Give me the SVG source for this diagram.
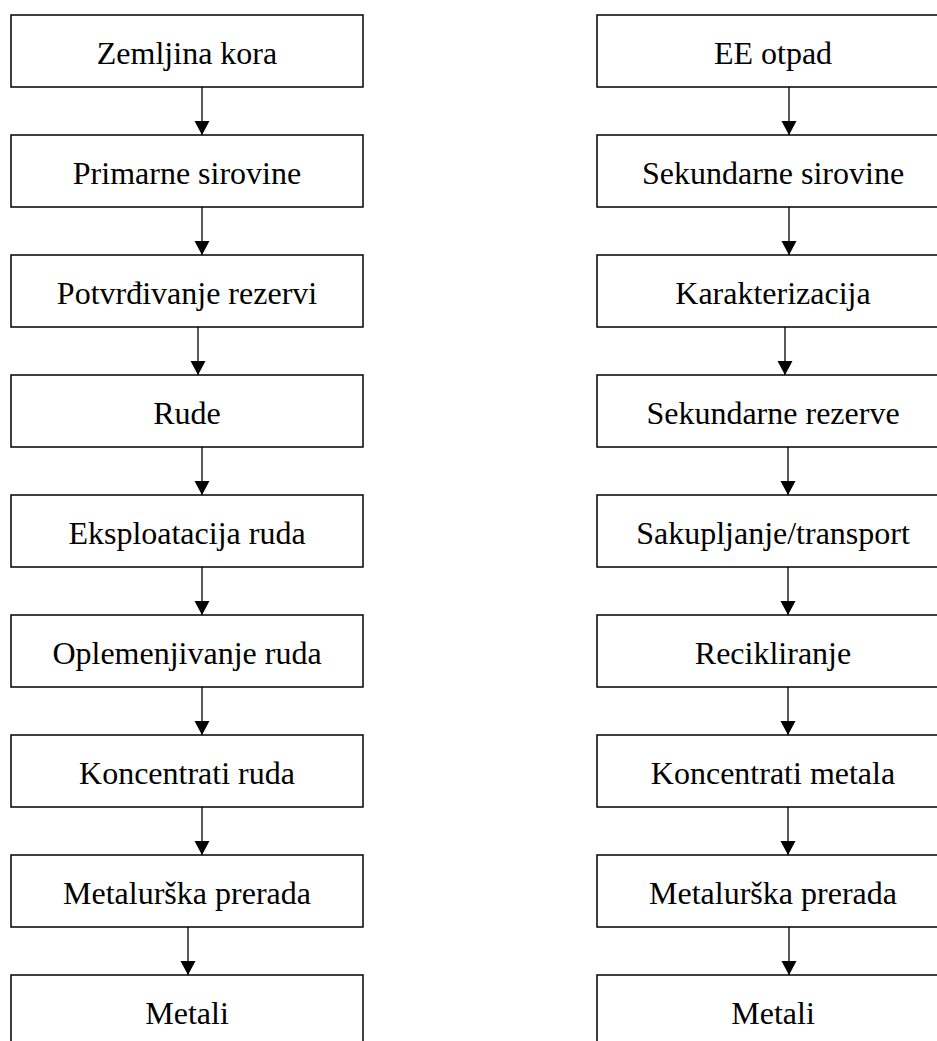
<svg xmlns="http://www.w3.org/2000/svg" width="937" height="1041" viewBox="0 0 937 1041">
<style>
.box{fill:#fff;stroke:#000;stroke-width:1.5}
.lbl{font-family:"Liberation Serif","Times New Roman",serif;font-size:32px;fill:#000;text-anchor:middle}
.con{stroke:#000;stroke-width:1.3;fill:none;marker-end:url(#ah)}
</style>
<defs>
<marker id="ah" markerUnits="userSpaceOnUse" markerWidth="16" markerHeight="16" refX="14" refY="7.5" orient="auto">
<path d="M0,0 L14,7.5 L0,15 Z" fill="#000"/>
</marker>
</defs>
<rect width="937" height="1041" fill="#fff"/>
<g id="connectors">
<line class="con" x1="202" y1="87" x2="202" y2="135"/>
<line class="con" x1="202" y1="207" x2="202" y2="255"/>
<line class="con" x1="198" y1="327" x2="198" y2="375"/>
<line class="con" x1="202" y1="447" x2="202" y2="495"/>
<line class="con" x1="202" y1="567" x2="202" y2="615"/>
<line class="con" x1="202" y1="687" x2="202" y2="735"/>
<line class="con" x1="202" y1="807" x2="202" y2="855"/>
<line class="con" x1="188" y1="927" x2="188" y2="975"/>
<line class="con" x1="789" y1="87" x2="789" y2="135"/>
<line class="con" x1="789" y1="207" x2="789" y2="255"/>
<line class="con" x1="785" y1="327" x2="785" y2="375"/>
<line class="con" x1="788" y1="447" x2="788" y2="495"/>
<line class="con" x1="788" y1="567" x2="788" y2="615"/>
<line class="con" x1="788" y1="687" x2="788" y2="735"/>
<line class="con" x1="788" y1="807" x2="788" y2="855"/>
<line class="con" x1="789" y1="927" x2="789" y2="975"/>
</g>
<g id="L1"><rect class="box" x="11" y="15" width="352" height="72"/><text class="lbl" x="187" y="64">Zemljina kora</text></g>
<g id="L2"><rect class="box" x="11" y="135" width="352" height="72"/><text class="lbl" x="187" y="184">Primarne sirovine</text></g>
<g id="L3"><rect class="box" x="11" y="255" width="352" height="72"/><text class="lbl" x="187" y="304">Potvrđivanje rezervi</text></g>
<g id="L4"><rect class="box" x="11" y="375" width="352" height="72"/><text class="lbl" x="187" y="424">Rude</text></g>
<g id="L5"><rect class="box" x="11" y="495" width="352" height="72"/><text class="lbl" x="187" y="544">Eksploatacija ruda</text></g>
<g id="L6"><rect class="box" x="11" y="615" width="352" height="72"/><text class="lbl" x="187" y="664">Oplemenjivanje ruda</text></g>
<g id="L7"><rect class="box" x="11" y="735" width="352" height="72"/><text class="lbl" x="187" y="784">Koncentrati ruda</text></g>
<g id="L8"><rect class="box" x="11" y="855" width="352" height="72"/><text class="lbl" x="187" y="904">Metalurška prerada</text></g>
<g id="L9"><rect class="box" x="11" y="975" width="352" height="72"/><text class="lbl" x="187" y="1024">Metali</text></g>
<g id="R1"><rect class="box" x="597" y="15" width="353" height="72"/><text class="lbl" x="773" y="64">EE otpad</text></g>
<g id="R2"><rect class="box" x="597" y="135" width="353" height="72"/><text class="lbl" x="773" y="184">Sekundarne sirovine</text></g>
<g id="R3"><rect class="box" x="597" y="255" width="353" height="72"/><text class="lbl" x="773" y="304">Karakterizacija</text></g>
<g id="R4"><rect class="box" x="597" y="375" width="353" height="72"/><text class="lbl" x="773" y="424">Sekundarne rezerve</text></g>
<g id="R5"><rect class="box" x="597" y="495" width="353" height="72"/><text class="lbl" x="773" y="544">Sakupljanje/transport</text></g>
<g id="R6"><rect class="box" x="597" y="615" width="353" height="72"/><text class="lbl" x="773" y="664">Recikliranje</text></g>
<g id="R7"><rect class="box" x="597" y="735" width="353" height="72"/><text class="lbl" x="773" y="784">Koncentrati metala</text></g>
<g id="R8"><rect class="box" x="597" y="855" width="353" height="72"/><text class="lbl" x="773" y="904">Metalurška prerada</text></g>
<g id="R9"><rect class="box" x="597" y="975" width="353" height="72"/><text class="lbl" x="773" y="1024">Metali</text></g>
</svg>
